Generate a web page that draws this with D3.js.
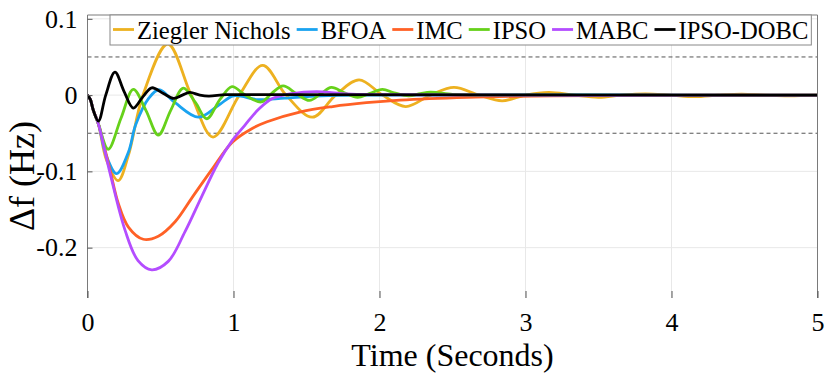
<!DOCTYPE html>
<html>
<head>
<meta charset="utf-8">
<script src="https://cdn.jsdelivr.net/npm/d3@7/dist/d3.min.js"></script>
<style>
    body { margin: 0; background: #fff; }
    text { font-family: "Liberation Serif", "Times New Roman", serif; fill: #000; }
</style>
</head>
<body>
<svg id="chart" width="830" height="380"></svg>
<script>
// legend order = drawing order
const names = ['Ziegler Nichols', 'BFOA', 'IMC', 'IPSO', 'MABC', 'IPSO-DOBC'];
const colors = ['#edb120', '#1aa3f0', '#ff6126', '#66d11a', '#b44dff', '#000000'];

const xTicks = [0, 1, 2, 3, 4, 5];
const yTicks = [0.1, 0, -0.1, -0.2];
const yTickLabels = ['0.1', '0', '-0.1', '-0.2'];
const bandLines = [0.05, -0.05];

// values (time in s, deviation in Hz)
const znTime = [0, 0.02, 0.04, 0.075, 0.13, 0.21, 0.28, 0.38, 0.55, 0.71, 0.86, 1.04, 1.2, 1.36, 1.54, 1.7, 1.86, 2.02, 2.18, 2.35, 2.51, 2.68, 2.84, 3.0, 3.16, 3.33, 3.5, 3.66, 3.82, 3.99, 4.16, 4.32, 4.48, 4.64, 4.8, 5];
const znValue = [0, -0.006, -0.02, -0.038, -0.085, -0.112, -0.079, 0, 0.067, 0, -0.055, 0, 0.039, 0, -0.029, 0, 0.02, 0, -0.015, 0, 0.01, 0, -0.0075, 0, 0.0035, 0, -0.003, 0, 0.0015, 0, -0.002, 0, 0.0013, 0, -0.001, 0];

const bfoaTime = [0, 0.02, 0.04, 0.075, 0.13, 0.2, 0.28, 0.33, 0.42, 0.49, 0.6, 0.76, 0.9, 1.0, 1.17, 1.35, 1.6, 2.0, 5];
const bfoaValue = [0, -0.006, -0.02, -0.038, -0.08, -0.103, -0.075, -0.039, -0.004, 0.007, -0.01, -0.029, -0.013, -0.001, -0.006, -0.004, -0.001, 0, 0];

const imcTime = [0, 0.02, 0.04, 0.075, 0.154, 0.211, 0.28, 0.382, 0.485, 0.6, 0.714, 0.85, 0.99, 1.125, 1.23, 1.46, 1.68, 1.91, 2.14, 2.6, 3.05, 3.5, 5];
const imcValue = [0, -0.006, -0.02, -0.038, -0.098, -0.142, -0.173, -0.189, -0.185, -0.166, -0.135, -0.098, -0.062, -0.044, -0.035, -0.022, -0.015, -0.01, -0.0066, -0.003, -0.0013, -0.0005, 0];

const ipsoTime = [0, 0.02, 0.04, 0.075, 0.142, 0.23, 0.314, 0.4, 0.485, 0.57, 0.656, 0.74, 0.816, 0.91, 0.99, 1.08, 1.19, 1.26, 1.34, 1.43, 1.52, 1.6, 1.67, 1.76, 1.85, 1.93, 2.02, 2.1, 2.2, 2.28, 2.35, 2.5, 2.7, 5];
const ipsoValue = [0, -0.006, -0.02, -0.038, -0.071, -0.03, 0.0075, -0.02, -0.0525, -0.02, 0.009, -0.01, -0.031, -0.005, 0.011, 0, -0.009, 0.002, 0.012, 0.002, -0.007, 0.002, 0.01, 0.003, -0.003, 0.002, 0.0075, 0.003, -0.001, 0.002, 0.004, 0.001, 0, 0];

const mabcTime = [0, 0.02, 0.04, 0.075, 0.154, 0.257, 0.346, 0.44, 0.553, 0.668, 0.782, 0.894, 0.99, 1.08, 1.17, 1.26, 1.4, 1.57, 1.74, 1.95, 5];
const mabcValue = [0, -0.006, -0.02, -0.038, -0.102, -0.177, -0.217, -0.229, -0.218, -0.179, -0.133, -0.089, -0.06, -0.039, -0.019, -0.005, 0.002, 0.0045, 0.002, 0.0005, 0];

const dobcTime = [0, 0.02, 0.04, 0.075, 0.125, 0.188, 0.25, 0.314, 0.38, 0.44, 0.52, 0.59, 0.65, 0.7, 0.77, 0.83, 0.95, 1.2, 5];
const dobcValue = [0, -0.006, -0.02, -0.034, 0, 0.03, 0.005, -0.017, -0.002, 0.0096, 0.002, -0.0044, 0, 0.0035, 0, -0.0013, 0.0005, 0.0005, 0];

const times = [znTime, bfoaTime, imcTime, ipsoTime, mabcTime, dobcTime];
const values = [znValue, bfoaValue, imcValue, ipsoValue, mabcValue, dobcValue];

const serif = '"Liberation Serif", "Times New Roman", serif';
const svg = d3.select('#chart');
const plotLeft = 87.5, plotRight = 817.5, plotTop = 15, plotBottom = 298;

const x = d3.scaleLinear().domain([0, 5]).range([plotLeft, plotRight]);
const y = d3.scaleLinear().domain([-0.266, 0.105]).range([plotBottom, plotTop]);

svg.append('defs').append('clipPath').attr('id', 'plot')
    .append('rect')
    .attr('x', plotLeft).attr('y', plotTop)
    .attr('width', plotRight - plotLeft).attr('height', plotBottom - plotTop);

// grid
const grid = svg.append('g');
grid.selectAll('.vg').data(xTicks.slice(1, -1)).join('line')
    .attr('x1', d => x(d)).attr('x2', d => x(d))
    .attr('y1', plotTop).attr('y2', plotBottom)
    .attr('stroke', '#e8e8e8').attr('stroke-width', 1);
grid.selectAll('.hg').data(yTicks).join('line')
    .attr('x1', plotLeft).attr('x2', plotRight)
    .attr('y1', d => y(d)).attr('y2', d => y(d))
    .attr('stroke', '#e8e8e8').attr('stroke-width', 1);

// +-0.05 band
svg.append('g').selectAll('line').data(bandLines).join('line')
    .attr('x1', plotLeft).attr('x2', plotRight)
    .attr('y1', d => y(d)).attr('y2', d => y(d))
    .attr('stroke', '#555').attr('stroke-width', 1)
    .attr('stroke-dasharray', '4,3');

// curves
const line = d3.line()
    .x(d => x(d[0]))
    .y(d => y(d[1]))
    .curve(d3.curveCatmullRom.alpha(0.5));

const curves = svg.append('g').attr('clip-path', 'url(#plot)');
names.forEach((name, i) => {
    const pts = times[i].map((t, k) => [t, values[i][k]]);
    curves.append('path')
        .attr('d', line(pts))
        .attr('fill', 'none')
        .attr('stroke', colors[i])
        .attr('stroke-width', 2.8)
        .attr('stroke-linejoin', 'round');
});

// axes frame: left, top, right (no bottom line)
const frame = svg.append('g').attr('stroke', '#7a7a7a').attr('stroke-width', 1);
frame.append('line').attr('x1', plotLeft).attr('x2', plotLeft).attr('y1', plotTop).attr('y2', plotBottom);
frame.append('line').attr('x1', plotLeft).attr('x2', plotRight).attr('y1', plotTop).attr('y2', plotTop);
frame.append('line').attr('x1', plotRight).attr('x2', plotRight).attr('y1', plotTop).attr('y2', plotBottom);

// x ticks (inward)
const xAxis = d3.axisBottom(x).tickValues(xTicks).tickSizeInner(-7).tickSizeOuter(0).tickPadding(15)
    .tickFormat(d3.format('d'));
const gx = svg.append('g').attr('transform', `translate(0,${plotBottom})`).call(xAxis)
    .attr('font-family', serif);
gx.select('.domain').remove();
gx.selectAll('.tick line').attr('stroke', '#555');
gx.selectAll('.tick text').attr('font-size', 26).attr('fill', '#000');

// y ticks (inward)
const yAxis = d3.axisLeft(y).tickValues(yTicks).tickSizeInner(-5).tickSizeOuter(0).tickPadding(10)
    .tickFormat((d, i) => yTickLabels[i]);
const gy = svg.append('g').attr('transform', `translate(${plotLeft},0)`).call(yAxis)
    .attr('font-family', serif);
gy.select('.domain').remove();
gy.selectAll('.tick line').attr('stroke', '#555');
gy.selectAll('.tick text').attr('font-size', 26).attr('fill', '#000');

// axis titles
svg.append('text')
    .attr('x', (plotLeft + plotRight) / 2).attr('y', 366)
    .attr('text-anchor', 'middle')
    .attr('font-size', 32)
    .text('Time (Seconds)');

svg.append('text')
    .attr('transform', 'translate(34,176) rotate(-90)')
    .attr('text-anchor', 'middle')
    .attr('font-size', 36)
    .text('\u0394f (Hz)');

// legend
const legend = svg.append('g');
const box = legend.append('rect')
    .attr('fill', '#fff').attr('stroke', '#888').attr('stroke-width', 1);
let lx = 113;
names.forEach((name, i) => {
    legend.append('line')
        .attr('x1', lx).attr('x2', lx + 21)
        .attr('y1', 29.5).attr('y2', 29.5)
        .attr('stroke', colors[i]).attr('stroke-width', 2.8);
    const txt = legend.append('text')
        .attr('x', lx + 24).attr('y', 38.5)
        .attr('font-size', 24.6)
        .text(name);
    lx += 24 + txt.node().getComputedTextLength() + 6;
});
box.attr('x', 110).attr('y', plotTop).attr('width', lx - 110 - 3).attr('height', 30);
</script>
</body>
</html>
